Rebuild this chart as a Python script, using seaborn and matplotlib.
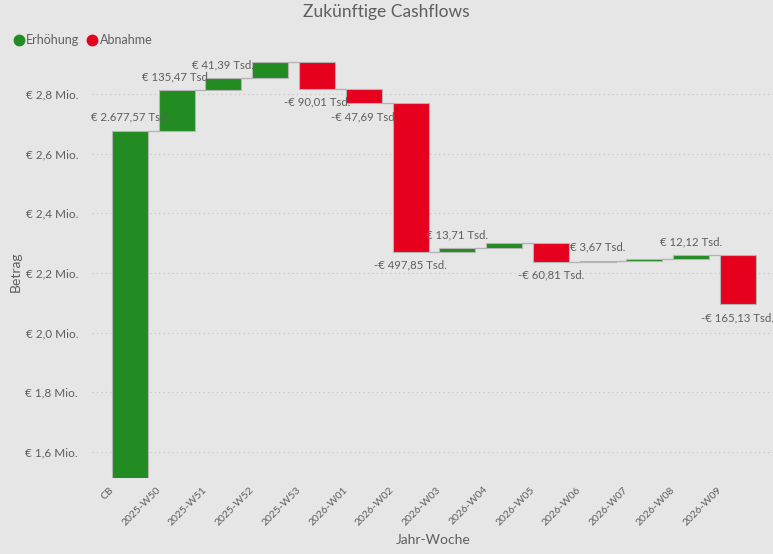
#Import Libraries
import matplotlib
matplotlib.use('Agg')
import matplotlib.pyplot as plt
import matplotlib.transforms as mtransforms
import seaborn as sns
import numpy as np
from matplotlib.lines import Line2D

#Data (values in Tsd. EUR)
weeks = ['CB', '2025-W50', '2025-W51', '2025-W52', '2025-W53', '2026-W01', '2026-W02',
         '2026-W03', '2026-W04', '2026-W05', '2026-W06', '2026-W07', '2026-W08', '2026-W09']
changes = [2677.57, 135.47, 41.39, 52.5, -90.01, -47.69, -497.85,
           13.71, 14.1, -60.81, 3.67, 6.0, 12.12, -165.13]
hiddenLabels = ['2025-W52', '2026-W04', '2026-W07'] #labels Power BI dropped
yTicks = [1600, 1800, 2000, 2200, 2400, 2600, 2800]

#Colours
bgColor = '#E6E6E6'
textColor = '#605E5C'
upColor = '#228B22'
downColor = '#E6001E'

sns.set_theme(style='white')
plt.rcParams['font.family'] = ['Lato', 'DejaVu Sans']

def fmtTsd(v):
    s = f'{abs(v):,.2f}'.replace(',', 'X').replace('.', ',').replace('X', '.')
    return ('-€ ' if v < 0 else '€ ') + s + ' Tsd.'

def fmtMio(v):
    return '€ ' + f'{v / 1000:.1f}'.replace('.', ',') + ' Mio.'

#Waterfall geometry
ends = np.cumsum(changes)
starts = ends - np.array(changes)
bottoms = np.minimum(starts, ends)
heights = np.abs(changes)
colors = [upColor if c >= 0 else downColor for c in changes]
xPos = np.arange(len(weeks))

fig = plt.figure(figsize=(7.73, 5.54), dpi=100)
fig.patch.set_facecolor(bgColor)
ax = fig.add_axes([92 / 773, 76 / 554, 681 / 773, 423 / 554])
ax.set_facecolor(bgColor)

barWidth = 0.77
ax.bar(xPos, heights, bottom=bottoms, width=barWidth, color=colors,
       edgecolor='#B4B4B4', linewidth=0.8, zorder=3)

#Connectors
for i in range(len(weeks) - 1):
    ax.plot([xPos[i] + barWidth / 2, xPos[i + 1] - barWidth / 2], [ends[i], ends[i]],
            color='#B4B4B4', linewidth=1, zorder=2)

#Value labels
for i, w in enumerate(weeks):
    if w in hiddenLabels:
        continue
    off = 9.5 if changes[i] >= 0 else -9.5
    ax.annotate(fmtTsd(changes[i]), (xPos[i], ends[i]), xytext=(0, off), textcoords='offset points',
                ha='center', va='center', fontsize=8.2, color=textColor, zorder=4)

ax.set_xlim(-0.81, 13.75)
ax.set_ylim(1513, 2931)
ax.tick_params(axis='x', length=0, pad=5)
ax.tick_params(axis='y', length=0, pad=10)
ax.set_yticks(yTicks)
ax.set_yticklabels([fmtMio(v) for v in yTicks], fontsize=8.5, color=textColor)
ax.set_xticks(xPos)
ax.set_xticklabels(weeks, rotation=45, ha='right', rotation_mode='anchor',
                   fontsize=7.5, color=textColor)
#Power BI places the rotated labels left of the tick
shift = mtransforms.ScaledTranslation(-21 / 100, 0, fig.dpi_scale_trans)
for lbl in ax.get_xticklabels():
    lbl.set_transform(lbl.get_transform() + shift)
ax.grid(axis='y', linestyle=(0, (1, 3)), color='#C4C4C4', linewidth=0.8, zorder=0)
sns.despine(ax=ax, left=True, bottom=True)

fig.text(433 / 773, 1 - 540 / 554, 'Jahr-Woche', ha='center', va='center', fontsize=10, color=textColor)
fig.text(16 / 773, 1 - 272 / 554, 'Betrag', ha='center', va='center', rotation=90, fontsize=10, color=textColor)
fig.text(0.5, 1 - 12 / 554, 'Zukünftige Cashflows', ha='center', va='center', fontsize=12.5, color=textColor)

#Legend
handles = [Line2D([], [], marker='o', linestyle='', markersize=7.5, color=upColor),
           Line2D([], [], marker='o', linestyle='', markersize=7.5, color=downColor)]
fig.legend(handles, ['Erhöhung', 'Abnahme'], loc='center left', bbox_to_anchor=(0.0, 1 - 40 / 554),
           ncol=2, frameon=False, fontsize=9, handletextpad=0.0, columnspacing=0.4,
           labelcolor=textColor, handlelength=1.2)

plt.savefig('out.png', dpi=100, facecolor=bgColor)
